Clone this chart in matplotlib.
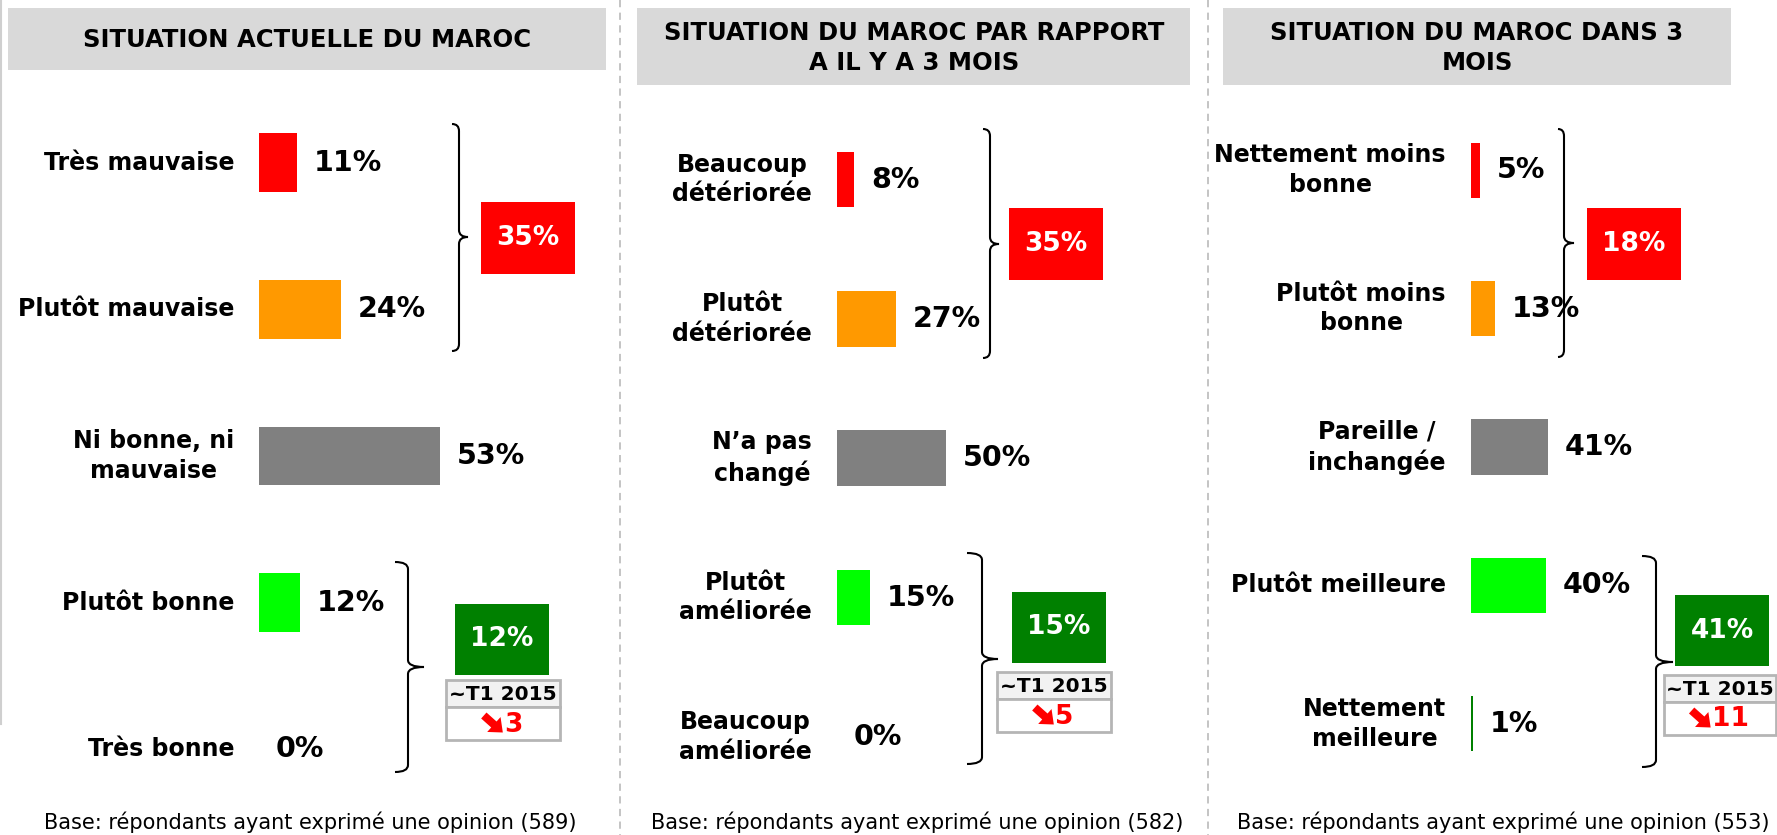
import matplotlib
matplotlib.use("Agg")
import matplotlib.pyplot as plt
from matplotlib.patches import Rectangle, PathPatch, FancyArrow
from matplotlib.path import Path

plt.rcParams['font.family'] = ['DejaVu Sans']

W, H = 1777, 835

# --------DATA--------
titles = ["SITUATION ACTUELLE DU MAROC",
          "SITUATION DU MAROC PAR RAPPORT\nA IL Y A 3 MOIS",
          "SITUATION DU MAROC DANS 3\nMOIS"]
labels_1 = ["Très mauvaise", "Plutôt mauvaise", "Ni bonne, ni\nmauvaise", "Plutôt bonne", "Très bonne"]
labels_2 = ["Beaucoup\ndétériorée", "Plutôt\ndétériorée", "N’a pas\nchangé", "Plutôt\naméliorée", "Beaucoup\naméliorée"]
labels_3 = ["Nettement moins\nbonne", "Plutôt moins\nbonne", "Pareille /\ninchangée", "Plutôt meilleure", "Nettement\nmeilleure"]
values_1 = [11, 24, 53, 12, 0]
values_2 = [8, 27, 50, 15, 0]
values_3 = [5, 13, 41, 40, 1]
neg_totals = [35, 35, 18]   # mauvaise / détériorée / moins bonne
pos_totals = [12, 15, 41]   # bonne / améliorée / meilleure
changes_t1 = [3, 5, 11]     # baisse par rapport au T1 2015
bases = [589, 582, 553]
colors = ["#FF0000", "#FF9900", "#808080", "#00FF00", "#008000"]

labels = [labels_1, labels_2, labels_3]
values = [values_1, values_2, values_3]

# --------LAYOUT (pixels)--------
layout = [
    dict(x0=259, s=3.42, c0=162.8, dy=146.6, lab_x=234,
         tbox=(8, 606, 8, 70), title_xy=(307, 40), base_x=310,
         br_top=(459, 124, 351, 237, 468, 452), br_bot=(408, 562, 772, 667, 424, 395),
         red=(481, 575, 202, 274), green=(455, 549, 604, 675), t1=(446, 560, 680, 740, 707)),
    dict(x0=837, s=2.18, c0=179.6, dy=139.3, lab_x=812,
         tbox=(637, 1190, 8, 85), title_xy=(914, 48), base_x=917,
         br_top=(990, 129, 358, 244, 999, 983), br_bot=(982, 553, 764, 659, 998, 967),
         red=(1009, 1103, 208, 280), green=(1012, 1106, 592, 663), t1=(997, 1111, 672, 732, 699)),
    dict(x0=1471, s=1.88, c0=170.2, dy=138.4, lab_x=1446,
         tbox=(1223, 1731, 8, 85), title_xy=(1477, 48), base_x=1503,
         br_top=(1564, 129, 357, 243, 1574, 1558), br_bot=(1656, 556, 767, 662, 1673, 1642),
         red=(1587, 1681, 208, 280), green=(1675, 1769, 595, 666), t1=(1664, 1776, 675, 735, 702)),
]


def brace(ax, x, top, bot, mid, tip, hook, r=7):
    verts = [(hook, top), (x, top), (x, top + r), (x, mid - r), (x, mid), (tip, mid),
             (x, mid), (x, mid + r), (x, bot - r), (x, bot), (hook, bot)]
    codes = [Path.MOVETO, Path.CURVE3, Path.CURVE3, Path.LINETO, Path.CURVE3, Path.CURVE3,
             Path.CURVE3, Path.CURVE3, Path.LINETO, Path.CURVE3, Path.CURVE3]
    ax.add_patch(PathPatch(Path(verts, codes), fill=False, lw=1.5, color='black'))


def box(ax, x1, x2, y1, y2, fc, ec='none', lw=0):
    ax.add_patch(Rectangle((x1, y1), x2 - x1, y2 - y1, facecolor=fc, edgecolor=ec, lw=lw))


fig = plt.figure(figsize=(W / 100, H / 100), dpi=100)
bg = fig.add_axes([0, 0, 1, 1])
bg.set_xlim(0, W)
bg.set_ylim(H, 0)
bg.axis('off')

# separateurs
for xs in [620, 1208]:
    bg.plot([xs, xs], [0, H], color='#BFBFBF', lw=1.3, ls=(0, (4, 3)))
bg.plot([1, 1], [0, 724], color='#CFCFCF', lw=1.5)

for p, L in enumerate(layout):
    # titre
    x1, x2, y1, y2 = L['tbox']
    box(bg, x1, x2, y1, y2, '#D9D9D9')
    bg.text(*L['title_xy'], titles[p], ha='center', va='center', fontsize=17.5,
            fontweight='bold', linespacing=1.3)

    # barres
    ytop = L['c0'] - L['dy'] / 2
    ybot = L['c0'] + 4.5 * L['dy']
    wpx = 320
    ax = fig.add_axes([L['x0'] / W, 1 - ybot / H, wpx / W, (ybot - ytop) / H])
    ax.set_xlim(0, wpx / L['s'])
    ax.set_ylim(4.5, -0.5)
    ax.axis('off')
    ax.patch.set_alpha(0)
    ypos = list(range(len(values[p])))
    ax.barh(ypos, values[p], height=0.40, color=colors)
    lab_off = (L['lab_x'] - L['x0']) / L['s']
    for i, (lab, v) in enumerate(zip(labels[p], values[p])):
        ax.text(lab_off, i, lab, ha='right', va='center', multialignment='center',
                fontsize=17, fontweight='bold', linespacing=1.3, clip_on=False)
        ax.annotate(f"{v}%", xy=(v, i), xytext=(12, 0), textcoords='offset points',
                    ha='left', va='center', fontsize=20.5, fontweight='bold',
                    annotation_clip=False)

    # accolades + totaux
    brace(bg, *L['br_top'])
    brace(bg, *L['br_bot'])
    x1, x2, y1, y2 = L['red']
    box(bg, x1, x2, y1, y2, '#FF0000')
    bg.text((x1 + x2) / 2, (y1 + y2) / 2, f"{neg_totals[p]}%", color='white',
            ha='center', va='center', fontsize=19, fontweight='bold')
    x1, x2, y1, y2 = L['green']
    box(bg, x1, x2, y1, y2, '#008000')
    bg.text((x1 + x2) / 2, (y1 + y2) / 2, f"{pos_totals[p]}%", color='white',
            ha='center', va='center', fontsize=19, fontweight='bold')

    # comparaison T1 2015
    x1, x2, y1, y2, ym = L['t1']
    box(bg, x1, x2, y1, ym, '#F2F2F2', '#B5B5B5', 2)
    box(bg, x1, x2, ym, y2, 'white', '#B5B5B5', 2)
    bg.text((x1 + x2) / 2, (y1 + ym) / 2 + 1, "~T1 2015", ha='center', va='center',
            fontsize=14.5, fontweight='bold')
    num = str(changes_t1[p])
    fs = 19
    num_w = len(num) * 0.696 * fs * 100 / 72
    group_w = 22 + num_w
    gx = (x1 + x2) / 2 - group_w / 2
    cy = (ym + y2) / 2 + 1
    bg.add_patch(FancyArrow(gx + 1, cy - 9, 19, 17, width=8, head_width=20, head_length=12,
                            length_includes_head=True, color='#FF0000', lw=0))
    bg.text(gx + 21, cy, num, ha='left', va='center', fontsize=fs, fontweight='bold',
            color='#FF0000')

    # base
    bg.text(L['base_x'], 822, f"Base: répondants ayant exprimé une opinion ({bases[p]})",
            ha='center', va='center', fontsize=15)

fig.savefig("out.png", dpi=100)
